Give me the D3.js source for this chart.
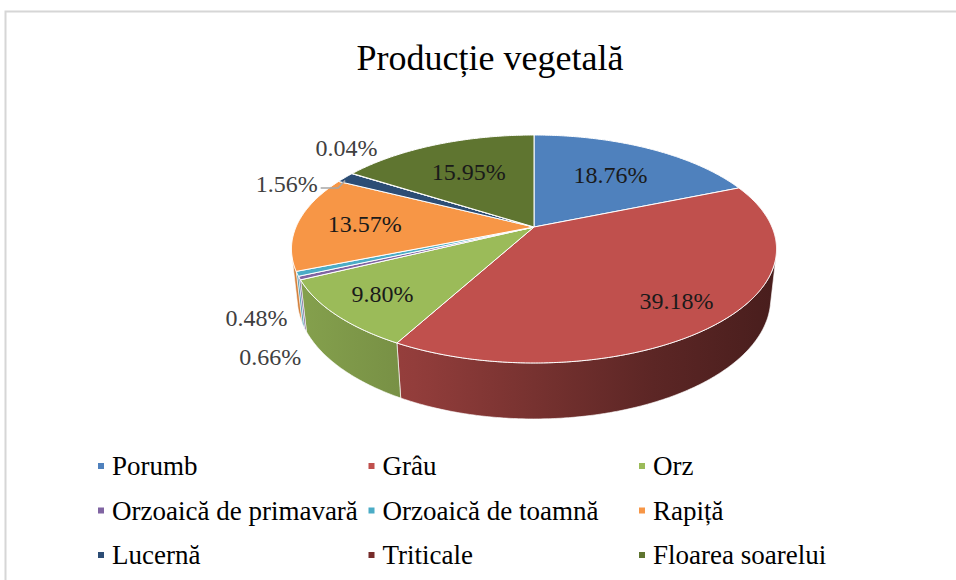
<!DOCTYPE html>
<html>
<head>
<meta charset="utf-8">
<script src="https://cdn.jsdelivr.net/npm/d3@7"></script>
<style>
  body { margin: 0; background: #fff; }
  svg { display: block; }
</style>
</head>
<body>
<svg id="chart" width="956" height="580" font-family="'Liberation Serif', 'Times New Roman', 'DejaVu Serif', serif"></svg>
<script>
// data
var categories = ["Porumb", "Grâu", "Orz", "Orzoaică de primavară", "Orzoaică de toamnă",
                  "Rapiță", "Lucernă", "Triticale", "Floarea soarelui"];
var shares = [18.76, 39.18, 9.80, 0.48, 0.66, 13.57, 1.56, 0.04, 15.95];
var colors = ["#4f81bd", "#c0504d", "#9bbb59", "#8064a2", "#4bacc6",
              "#f79646", "#2c4d75", "#772c2a", "#5f7530"];

// small slices get their label outside, moved by hand like in excel
var labelNudge = {
  "Orzoaică de primavară": [-12, 33],
  "Orzoaică de toamnă": [4, 77],
  "Lucernă": [-38, 11],
  "Triticale": [14, -20]
};

var svg = d3.select("#chart");
var serif = "'Liberation Serif', 'Times New Roman', 'DejaVu Serif', serif";

// frame
svg.append("rect")
  .attr("x", 5.5).attr("y", 11.5)
  .attr("width", 980).attr("height", 600)
  .attr("fill", "#fff")
  .attr("stroke", "#d6d6d6")
  .attr("stroke-width", 2);

svg.append("text")
  .attr("x", 490).attr("y", 70)
  .attr("text-anchor", "middle")
  .attr("font-family", serif)
  .attr("font-size", 36)
  .attr("fill", "#000")
  .text("Producție  vegetală");

// perspective 3d pie: unit circle, camera tilted down
var cx = 534, cy = 227, focal = 1094.7, dist = 4.6;
var tilt = 27.46 * Math.PI / 180, depth = 0.2355;
var ct = Math.cos(tilt), st = Math.sin(tilt);

function proj(theta, r, yh) {
  var X = r * Math.sin(theta), Z = -r * Math.cos(theta);
  var yv = Z * st - yh * ct;
  var zv = dist - Z * ct - yh * st;
  return [cx + focal * X / zv, cy + focal * yv / zv];
}

function arcPts(a0, a1, r, yh) {
  var n = Math.max(2, Math.ceil((a1 - a0) / (Math.PI / 360)));
  var pts = [];
  for (var i = 0; i <= n; i++) pts.push(proj(a0 + (a1 - a0) * i / n, r, yh));
  return pts;
}

var line = d3.line();
var pie = d3.pie().sort(null).value(function(d) { return d; });
var arcs = pie(shares);

// side shading, lighter on the left
var defs = svg.append("defs");
var xl = proj(-Math.PI / 2, 1, 0)[0], xr = proj(Math.PI / 2, 1, 0)[0];
var shadeStops = [[0, 0.86], [0.25, 0.76], [0.5, 0.62], [0.75, 0.48], [1, 0.38]];
colors.forEach(function(c, i) {
  var g = defs.append("linearGradient")
    .attr("id", "side" + i)
    .attr("gradientUnits", "userSpaceOnUse")
    .attr("x1", xl).attr("x2", xr).attr("y1", 0).attr("y2", 0);
  var base = d3.rgb(c);
  shadeStops.forEach(function(s) {
    g.append("stop")
      .attr("offset", s[0])
      .attr("stop-color", d3.rgb(base.r * s[1], base.g * s[1], base.b * s[1]).formatHex());
  });
});

// visible part of the outer wall
var visLo = Math.acos(-1 / (dist * ct)), visHi = 2 * Math.PI - visLo;

var walls = svg.append("g");
arcs.forEach(function(a, i) {
  var a0 = Math.max(a.startAngle, visLo), a1 = Math.min(a.endAngle, visHi);
  if (a1 <= a0) return;
  var pts = arcPts(a0, a1, 1, 0).concat(arcPts(a0, a1, 1, -depth).reverse());
  walls.append("path")
    .attr("d", line(pts) + "Z")
    .attr("fill", "url(#side" + i + ")")
    .attr("stroke", "#fff")
    .attr("stroke-width", 0.8)
    .attr("stroke-opacity", 0.8);
});

var tops = svg.append("g");
arcs.forEach(function(a, i) {
  var pts = [proj(0, 0, 0)].concat(arcPts(a.startAngle, a.endAngle, 1, 0));
  tops.append("path")
    .attr("d", line(pts) + "Z")
    .attr("fill", colors[i])
    .attr("stroke", "#fff")
    .attr("stroke-width", 1)
    .attr("stroke-linejoin", "round");
});

// data labels
var labels = svg.append("g");
arcs.forEach(function(a, i) {
  var mid = (a.startAngle + a.endAngle) / 2;
  var name = categories[i];
  var txt = shares[i].toFixed(2) + "%";
  var p, nudge = labelNudge[name];
  if (nudge) {
    p = proj(mid, 1.12, 0);
    p = [p[0] + nudge[0], p[1] + nudge[1]];
  } else {
    p = proj(mid, 0.72 + 0.1 * -Math.cos(mid), 0);
  }
  var t = labels.append("text")
    .attr("x", p[0]).attr("y", p[1])
    .attr("dy", "0.35em")
    .attr("text-anchor", "middle")
    .attr("font-family", serif)
    .attr("font-size", 24)
    .attr("fill", nudge ? "#404040" : "#1a1a1a")
    .text(txt);
  if (name === "Lucernă") {
    var bb = t.node().getBBox();
    var rim = proj(mid, 1, 0);
    var y0 = p[1] + 5;
    svg.append("path")
      .attr("d", line([[bb.x + bb.width + 3, y0], [rim[0] - 7, y0], [rim[0], rim[1] + 3]]))
      .attr("fill", "none")
      .attr("stroke", "#a6a6a6")
      .attr("stroke-width", 1.5);
  }
});

// legend, three columns
var legend = svg.append("g");
categories.forEach(function(name, i) {
  var col = i % 3, row = Math.floor(i / 3);
  var x = 101 + col * 270.5, y = 466 + row * 44.5;
  legend.append("rect")
    .attr("x", x - 3).attr("y", y - 3)
    .attr("width", 6).attr("height", 6)
    .attr("fill", colors[i]);
  legend.append("text")
    .attr("x", x + 11).attr("y", y)
    .attr("dy", "0.35em")
    .attr("font-family", serif)
    .attr("font-size", 27)
    .attr("fill", "#000")
    .text(name);
});
</script>
</body>
</html>
